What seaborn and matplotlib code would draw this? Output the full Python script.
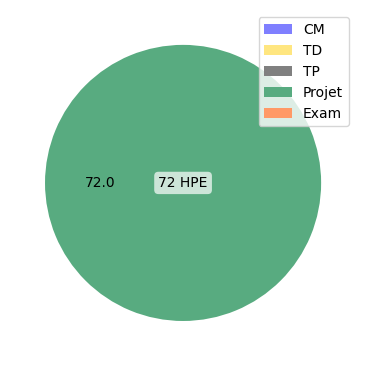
import matplotlib
matplotlib.use("Agg")
import matplotlib.pyplot as plt
import seaborn as sns

categories = ["CM", "TD", "TP", "Projet", "Exam"]
hours = [0, 0, 0, 72, 0]
colors = ["#7f7fff", "#ffe680", "#808080", "#58ab80", "#ff9966"]
total_label = "72 HPE"

sns.set_style("white")
plt.rcParams["font.family"] = ["DejaVu Sans"]
plt.rcParams["text.color"] = "black"

fig = plt.figure(figsize=(3.66, 3.66), dpi=100)
ax = fig.add_axes([0.0287, 0.0287, 0.943, 0.943])
total = sum(hours)

def fmt(p):
    v = p * total / 100.0
    return f"{v:.1f}" if v > 0 else ""

wedges, texts = ax.pie(hours, colors=colors, autopct=fmt,
                       wedgeprops=dict(linewidth=0, edgecolor="none"))[:2]
ax.text(0, 0, total_label, ha="center", va="center", fontsize=10, color="black",
        bbox=dict(boxstyle="round", facecolor="white", alpha=0.7, edgecolor="none"))
leg = ax.legend(wedges, categories, loc="upper right")
for t in leg.get_texts():
    t.set_color("black")
ax.set_aspect("equal")
fig.savefig("out.png", dpi=100)
